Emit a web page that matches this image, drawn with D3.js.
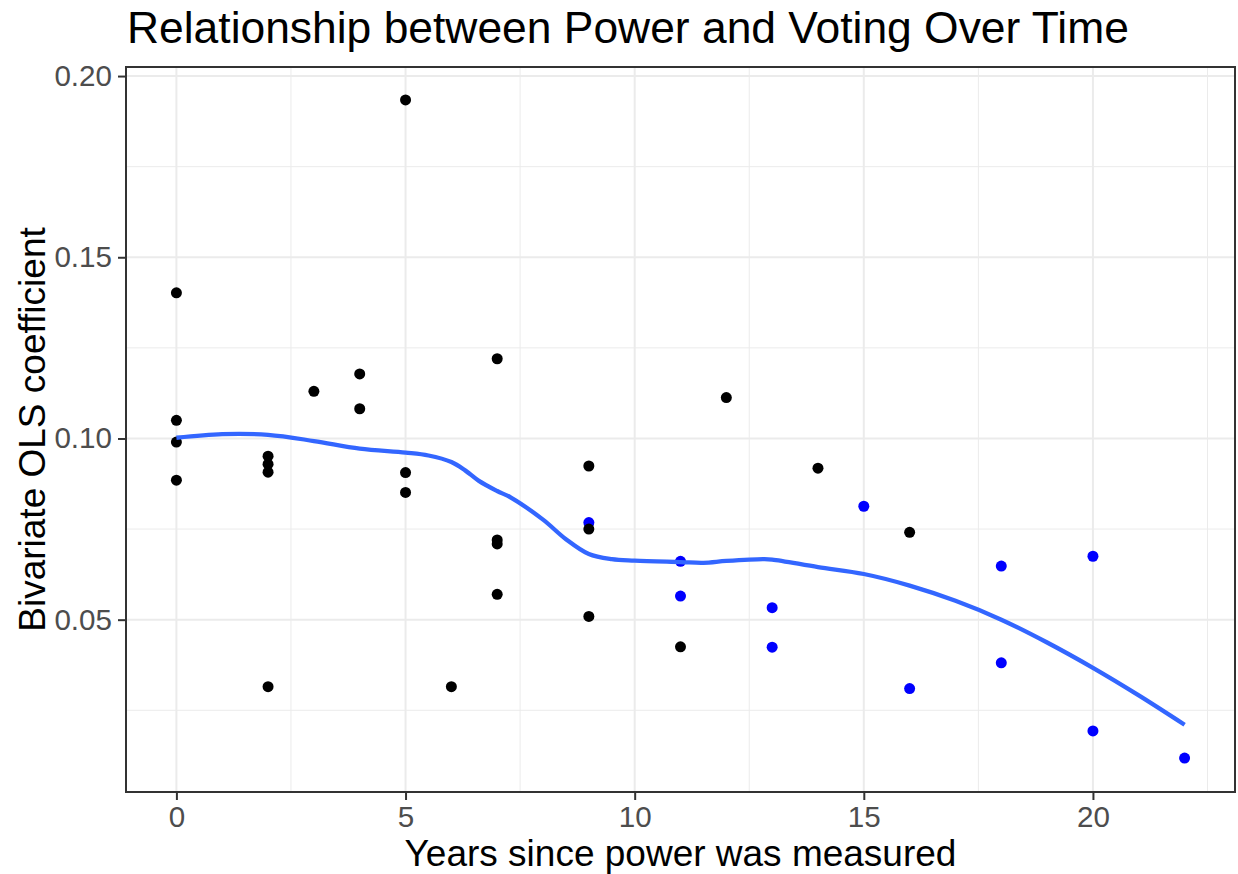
<!DOCTYPE html>
<html>
<head>
<meta charset="utf-8">
<script src="https://cdn.jsdelivr.net/npm/d3@7"></script>
<style>
  body { margin: 0; background: #fff; }
  text { font-family: "Liberation Sans", Arial, sans-serif; }
</style>
</head>
<body>
<div id="chart"></div>
<script>
// black points (years, coefficient)
var blackX = [0, 0, 0, 0, 2, 2, 2, 2, 3, 4, 4, 5, 5, 5, 6, 7, 7, 7, 7, 9, 9, 9, 11, 12, 14, 16];
var blackY = [0.1402, 0.1050, 0.0990, 0.0885, 0.0951, 0.0929, 0.0907, 0.0315, 0.1130, 0.1178, 0.1082,
              0.1934, 0.0906, 0.0851, 0.0315, 0.1220, 0.0720, 0.0709, 0.0570, 0.0924, 0.0750, 0.0509,
              0.0425, 0.1113, 0.0918, 0.0741];
// blue points
var blueX = [9, 11, 11, 13, 13, 15, 16, 18, 18, 20, 20, 22];
var blueY = [0.0768, 0.0661, 0.0565, 0.0533, 0.0424, 0.0813, 0.0310, 0.0648, 0.0381, 0.0675, 0.0193, 0.0118];
// loess smooth
var smoothX = [0, 1, 2, 3, 4, 5, 5.5, 6, 6.3, 6.6, 7, 7.3, 8, 8.5, 9, 9.5, 10, 11, 11.5, 12, 12.8, 13, 14, 15, 16, 17, 18, 19, 20, 21, 22];
var smoothY = [0.1002, 0.1012, 0.1010, 0.0993, 0.0972, 0.0961, 0.0953, 0.0935, 0.0912, 0.0883, 0.0855, 0.0837,
               0.0776, 0.0722, 0.0681, 0.0667, 0.0663, 0.0659, 0.0657, 0.0662, 0.0667, 0.0666, 0.0645, 0.0626,
               0.0594, 0.0552, 0.0500, 0.0437, 0.0367, 0.0291, 0.0210];
var xTicks = [0, 5, 10, 15, 20];
var xMinor = [2.5, 7.5, 12.5, 17.5, 22.5];
var yTicks = [0.05, 0.10, 0.15, 0.20];
var yMinor = [0.025, 0.075, 0.125, 0.175];

var width = 1238, height = 874;
var panel = {left: 126, right: 1235, top: 67, bottom: 792};

var svg = d3.select("#chart").append("svg")
  .attr("width", width)
  .attr("height", height);

var x = d3.scaleLinear().domain([-1.1, 23.1]).range([panel.left, panel.right]);
var y = d3.scaleLinear().domain([0.00245, 0.2025]).range([panel.bottom, panel.top]);

// grid
var grid = svg.append("g");
grid.selectAll(".xminor").data(xMinor.filter(function(d){ return x(d) < panel.right; }))
  .enter().append("line")
  .attr("x1", function(d){ return x(d); }).attr("x2", function(d){ return x(d); })
  .attr("y1", panel.top).attr("y2", panel.bottom)
  .attr("stroke", "#ebebeb").attr("stroke-width", 1);
grid.selectAll(".yminor").data(yMinor)
  .enter().append("line")
  .attr("y1", function(d){ return y(d); }).attr("y2", function(d){ return y(d); })
  .attr("x1", panel.left).attr("x2", panel.right)
  .attr("stroke", "#ebebeb").attr("stroke-width", 1);
grid.selectAll(".xmajor").data(xTicks)
  .enter().append("line")
  .attr("x1", function(d){ return x(d); }).attr("x2", function(d){ return x(d); })
  .attr("y1", panel.top).attr("y2", panel.bottom)
  .attr("stroke", "#ebebeb").attr("stroke-width", 2);
grid.selectAll(".ymajor").data(yTicks)
  .enter().append("line")
  .attr("y1", function(d){ return y(d); }).attr("y2", function(d){ return y(d); })
  .attr("x1", panel.left).attr("x2", panel.right)
  .attr("stroke", "#ebebeb").attr("stroke-width", 2);

// points
var blue = blueX.map(function(v, i){ return {x: v, y: blueY[i]}; });
var black = blackX.map(function(v, i){ return {x: v, y: blackY[i]}; });

svg.append("g").selectAll("circle").data(blue)
  .enter().append("circle")
  .attr("cx", function(d){ return x(d.x); })
  .attr("cy", function(d){ return y(d.y); })
  .attr("r", 5.5)
  .attr("fill", "#0000ff");

svg.append("g").selectAll("circle").data(black)
  .enter().append("circle")
  .attr("cx", function(d){ return x(d.x); })
  .attr("cy", function(d){ return y(d.y); })
  .attr("r", 5.5)
  .attr("fill", "#000");

// smooth
var smooth = smoothX.map(function(v, i){ return [v, smoothY[i]]; });
svg.append("path")
  .datum(smooth)
  .attr("fill", "none")
  .attr("stroke", "#3366ff")
  .attr("stroke-width", 4.3)
  .attr("d", d3.line()
    .x(function(d){ return x(d[0]); })
    .y(function(d){ return y(d[1]); })
    .curve(d3.curveCatmullRom));

// panel border
svg.append("rect")
  .attr("x", panel.left).attr("y", panel.top)
  .attr("width", panel.right - panel.left).attr("height", panel.bottom - panel.top)
  .attr("fill", "none").attr("stroke", "#333333").attr("stroke-width", 2);

// axes
var xAxis = svg.append("g")
  .attr("transform", "translate(0," + panel.bottom + ")")
  .call(d3.axisBottom(x).tickValues(xTicks).tickSize(8).tickPadding(6).tickFormat(d3.format("d")));
var yAxis = svg.append("g")
  .attr("transform", "translate(" + panel.left + ",0)")
  .call(d3.axisLeft(y).tickValues(yTicks).tickSize(8).tickPadding(6).tickFormat(d3.format(".2f")));

[xAxis, yAxis].forEach(function(a){
  a.select(".domain").remove();
  a.selectAll(".tick line").attr("stroke", "#333333").attr("stroke-width", 2);
  a.selectAll(".tick text")
    .attr("fill", "#4d4d4d")
    .style("font-size", "29.6px")
    .style("font-family", "'Liberation Sans', Arial, sans-serif");
});

// titles
svg.append("text")
  .attr("x", 127).attr("y", 43)
  .style("font-size", "44.4px")
  .attr("fill", "#000")
  .text("Relationship between Power and Voting Over Time");

svg.append("text")
  .attr("x", (panel.left + panel.right) / 2).attr("y", 866)
  .attr("text-anchor", "middle")
  .style("font-size", "37px")
  .attr("fill", "#000")
  .text("Years since power was measured");

svg.append("text")
  .attr("transform", "translate(45," + ((panel.top + panel.bottom) / 2) + ") rotate(-90)")
  .attr("text-anchor", "middle")
  .style("font-size", "37px")
  .attr("fill", "#000")
  .text("Bivariate OLS coefficient");
</script>
</body>
</html>
